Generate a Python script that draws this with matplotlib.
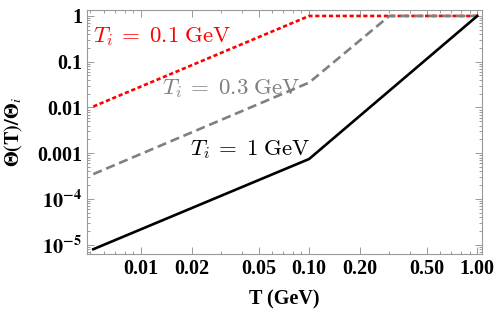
import matplotlib.pyplot as plt
from matplotlib.ticker import LogLocator, NullFormatter

# 数据：三条曲线的折点
T_red = [0.0052, 0.1, 1.0]
theta_red = [0.0105, 1.0, 1.0]
T_gray = [0.0052, 0.1, 0.3, 1.0]
theta_gray = [3.5e-4, 0.035, 1.0, 1.0]
T_black = [0.0052, 0.1, 1.0]
theta_black = [8e-6, 7.5e-4, 1.0]

xticks = [0.01, 0.02, 0.05, 0.1, 0.2, 0.5, 1.0]
xticklabels = ["0.01", "0.02", "0.05", "0.10", "0.20", "0.50", "1.00"]
yticks = [1, 0.1, 0.01, 0.001, 1e-4, 1e-5]
yticklabels = ["1", "0.1", "0.01", "0.001", r"$\mathbf{10^{-4}}$", r"$\mathbf{10^{-5}}$"]

plt.rcParams["font.family"] = ["Liberation Serif", "DejaVu Serif"]
plt.rcParams["mathtext.fontset"] = "stix"

fig = plt.figure(figsize=(4.98, 3.12), dpi=100)
ax = fig.add_axes([0.1747, 0.186, 0.7936, 0.782])

ax.plot(T_red, theta_red, color="#ff0000", lw=1.9, dashes=(1.6, 1.0))
ax.plot(T_gray, theta_gray, color="#808080", lw=1.9, dashes=(3.5, 1.8))
ax.plot(T_black, theta_black, color="black", lw=1.9)

ax.set_xscale("log")
ax.set_yscale("log")
ax.set_xlim(0.00477, 1.07)
ax.set_ylim(6.3e-6, 1.35)

ax.set_xticks(xticks, xticklabels)
ax.set_yticks(yticks, yticklabels)
ax.xaxis.set_minor_locator(LogLocator(base=10, subs=range(2, 10), numticks=20))
ax.yaxis.set_minor_locator(LogLocator(base=10, subs=range(2, 10), numticks=20))
ax.xaxis.set_minor_formatter(NullFormatter())
ax.yaxis.set_minor_formatter(NullFormatter())

frame = "#9a9a9a"
for s in ax.spines.values():
    s.set_color(frame)
    s.set_linewidth(0.8)
ax.tick_params(which="both", direction="in", top=True, right=True, color=frame,
               labelsize=14.5, width=0.7)
ax.tick_params(which="major", length=5)
ax.tick_params(which="minor", length=2.5)
for lbl in ax.get_xticklabels() + ax.get_yticklabels():
    lbl.set_fontweight("bold")

ax.set_xlabel("T (GeV)", fontsize=14.5, fontweight="bold", labelpad=8)
ax.set_ylabel(r"$\mathbf{\Theta(T)/\Theta}_{\mathit{i}}$", fontsize=14.5, labelpad=9)

ax.text(0.015, 0.893, r"$T_i\:=\;0.1\;\mathrm{GeV}$", transform=ax.transAxes,
        color="#ff0000", fontsize=16.5, va="center", math_fontfamily="cm")
ax.text(0.19, 0.68, r"$T_i\:=\;0.3\;\mathrm{GeV}$", transform=ax.transAxes,
        color="#808080", fontsize=16.5, va="center", math_fontfamily="cm")
ax.text(0.26, 0.426, r"$T_i\:=\;1\;\mathrm{GeV}$", transform=ax.transAxes,
        color="black", fontsize=16.5, va="center", math_fontfamily="cm")

fig.savefig("out.png", dpi=100)
